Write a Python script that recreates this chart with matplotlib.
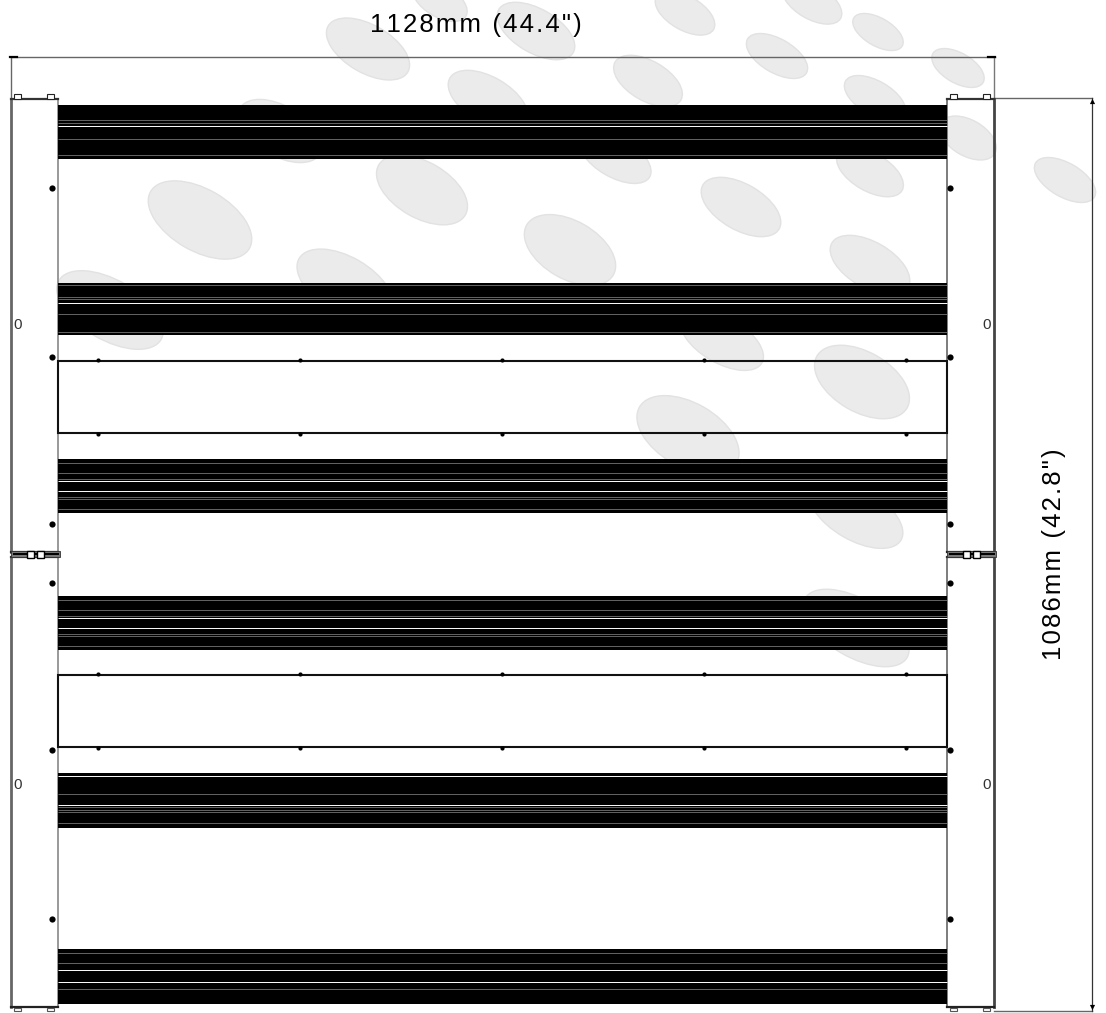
import matplotlib
matplotlib.use('Agg')
import matplotlib.pyplot as plt
from matplotlib.patches import Ellipse, Rectangle

plt.rcParams['font.family'] = ['Liberation Sans', 'DejaVu Sans']

WIDTH = 1106
HEIGHT = 1013

# watermark blobs: x, y, width, height, tilt
blob_x = [368, 440, 536, 685, 812, 878, 958, 648, 777, 488, 875, 280, 615, 870, 968,
          1065, 200, 422, 570, 741, 870, 345, 110, 722, 862, 688, 856, 856]
blob_y = [49, 1, 31, 13, 2, 32, 68, 81, 56, 100, 98, 131, 157, 172, 138,
          180, 220, 190, 250, 207, 265, 285, 310, 340, 382, 435, 514, 628]
blob_w = [92, 60, 86, 66, 66, 56, 58, 76, 68, 88, 68, 92, 80, 74, 62,
          68, 114, 100, 100, 88, 88, 106, 118, 92, 104, 112, 104, 118]
blob_h = [48, 32, 44, 34, 34, 28, 30, 40, 34, 46, 34, 50, 40, 38, 36,
          34, 62, 56, 58, 46, 46, 56, 60, 46, 60, 64, 52, 58]

# black fin bands: top, bottom, and the light lines running through each one
band_top = [105, 283, 459, 596, 773, 949]
band_bottom = [159, 335, 513, 650, 828, 1004]
band_grey = [
    [120, 123, 138.5, 155],
    [285, 297, 299, 314, 332],
    [462.5, 473, 479, 497, 498.5, 509],
    [599.5, 610, 616, 634, 635.5, 646],
    [793.5, 807, 810, 812, 823],
    [953, 963, 989],
]
band_white = [
    [126],
    [303],
    [480.5, 491],
    [617.5, 628],
    [776, 805],
    [970, 982],
]

# driver boxes
box_top = [361, 675]
box_bottom = [433, 747]
box_tick_x = [98, 300, 502, 704, 906]

# screws on the side rails
screw_y = [188, 357, 524, 583, 750, 919]
screw_x = [52, 950]

# side rails
rail_x = [[11, 58], [947, 994]]
rail_y = [[99, 552], [557, 1007]]
zero_x = [18, 987]
zero_y = [325, 785]

# dimensions
width_label = '1128mm (44.4")'
height_label = '1086mm (42.8")'


def spaced(label):
    # the drawing has wide letter spacing, hair spaces get close to it
    return '\u200a'.join(label)


fig = plt.figure(figsize=(WIDTH / 100, HEIGHT / 100), dpi=100)
ax = fig.add_axes([0, 0, 1, 1])
ax.set_xlim(0, WIDTH)
ax.set_ylim(HEIGHT, 0)
ax.axis('off')

for x, y, w, h in zip(blob_x, blob_y, blob_w, blob_h):
    ax.add_patch(Ellipse((x, y), w, h, angle=30, facecolor='#ebebeb', edgecolor='#e2e2e2', lw=1, zorder=1))

# the rails and boxes are see through, blobs show behind them
for xs in rail_x:
    for ys in rail_y:
        ax.plot([xs[0], xs[0]], ys, color='#666666', lw=2.0 if xs[0] < 100 else 1.2, zorder=3)
        ax.plot([xs[1], xs[1]], ys, color='#444444' if xs[0] > 100 else '#888888', lw=1.2 if xs[0] < 100 else 2.0, zorder=3)
        ax.plot(xs, [ys[0], ys[0]], color='#333333', lw=1.6, zorder=3)
        ax.plot(xs, [ys[1], ys[1]], color='#222222', lw=1.6, zorder=3)
    # little lugs at top and bottom
    for lug in [xs[0] + 6, xs[0] + 39]:
        ax.add_patch(Rectangle((lug - 3, 94), 7, 4.5, fc='white', ec='#222222', lw=0.8, zorder=3))
        ax.add_patch(Rectangle((lug - 3, 1008), 7, 3, fc='white', ec='#555555', lw=0.8, zorder=3))
    # hinge between the two halves
    ax.add_patch(Rectangle((xs[0], 551), xs[1] - xs[0] + 2, 6, fc='#777777', ec='#333333', lw=0.6, zorder=4))
    ax.plot([xs[0] + 3, xs[1]], [554, 554], color='black', lw=1.4, zorder=5)
    for hole in [xs[0] + 19, xs[0] + 29]:
        ax.add_patch(Rectangle((hole - 3.5, 551), 7, 6.5, fc='white', ec='black', lw=1, zorder=6))

for top, bottom, greys, whites in zip(band_top, band_bottom, band_grey, band_white):
    ax.add_patch(Rectangle((58, top), 889, bottom - top, fc='black', ec='none', zorder=4))
    ax.hlines(greys, 58, 947, color='#8c8c8c', lw=0.5, zorder=5)
    ax.hlines(whites, 58, 947, color='white', lw=0.7, zorder=5)

for top, bottom in zip(box_top, box_bottom):
    ax.add_patch(Rectangle((58, top), 889, bottom - top, fc='none', ec='#111111', lw=1.5, zorder=4))
    ax.scatter(box_tick_x, [top - 1] * 5, s=9, marker='o', color='black', linewidths=0, zorder=5)
    ax.scatter(box_tick_x, [bottom + 1] * 5, s=9, marker='o', color='black', linewidths=0, zorder=5)

for x in screw_x:
    ax.scatter([x] * len(screw_y), screw_y, s=20, color='black', linewidths=0, zorder=5)

for x in zero_x:
    for y in zero_y:
        ax.text(x, y, '0', ha='center', va='center', fontsize=11, color='#333333', zorder=6)

# width dimension
ax.plot([10.5, 995], [56.5, 56.5], color='#666666', lw=1.0, zorder=2)
ax.plot([10.5, 10.5], [56.5, 99], color='#666666', lw=1.0, zorder=2)
ax.plot([993.5, 993.5], [56.5, 97], color='#777777', lw=1.0, zorder=2)
ax.plot([10, 17], [56.5, 56.5], color='black', lw=1.6, zorder=3)
ax.plot([988, 995], [56.5, 56.5], color='black', lw=1.6, zorder=3)
ax.text(475.5, 32, spaced(width_label), ha='center', va='baseline', fontsize=18.5, color='black', zorder=7)

# height dimension
ax.plot([994, 1092], [97.5, 97.5], color='#666666', lw=1.0, zorder=2)
ax.plot([994, 1092], [1011, 1011], color='#666666', lw=1.0, zorder=2)
ax.plot([1091.5, 1091.5], [97.5, 1011], color='#333333', lw=0.9, zorder=2)
ax.scatter([1091.5], [101], s=14, marker='^', color='black', linewidths=0, zorder=3)
ax.scatter([1091.5], [1007], s=14, marker='v', color='black', linewidths=0, zorder=3)
ax.text(1054, 554, spaced(height_label), ha='center', va='center', rotation=90, fontsize=18.5, color='black', zorder=7)

fig.savefig('out.png', dpi=100)
